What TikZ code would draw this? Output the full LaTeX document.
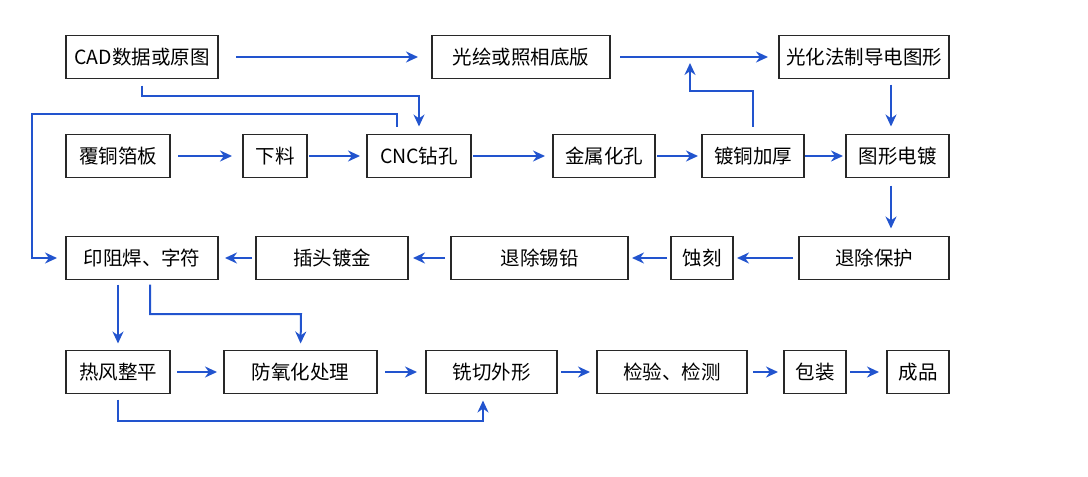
\documentclass[tikz,border=0pt]{standalone}
\usepackage{fontspec}
\setmainfont{Noto Sans CJK SC}
\usetikzlibrary{arrows.meta}
\definecolor{flowblue}{RGB}{34,84,206}
\definecolor{boxline}{RGB}{40,40,40}

\begin{document}
\begin{tikzpicture}[x=1pt,y=-1pt,
box/.style={draw=boxline,line width=1.4pt,inner sep=0pt,outer sep=0pt,minimum height=43pt,font=\fontsize{19.5}{22}\selectfont},
flow/.style={draw=flowblue,line width=2pt,-{Stealth[length=12pt,width=11pt]}}
]
\useasboundingbox (0,0) rectangle (1088,477);

% row 1
\node[box,minimum width=152pt] (cad) at (142,57) {CAD数据或原图};
\node[box,minimum width=178pt] (guanghui) at (521,57) {光绘或照相底版};
\node[box,minimum width=170pt] (guanghua) at (864,57) {光化法制导电图形};
% row 2
\node[box,minimum width=104pt] (futong) at (118,156) {覆铜箔板};
\node[box,minimum width=64pt] (xialiao) at (275,156) {下料};
\node[box,minimum width=104pt] (cnc) at (419,156) {CNC钻孔};
\node[box,minimum width=102pt] (jinshu) at (604,156) {金属化孔};
\node[box,minimum width=102pt] (dutong) at (753,156) {镀铜加厚};
\node[box,minimum width=103pt] (tuxing) at (897.5,156) {图形电镀};
% row 3
\node[box,minimum width=152pt] (yinzu) at (142,258) {印阻焊、字符};
\node[box,minimum width=152pt] (chatou) at (332,258) {插头镀金};
\node[box,minimum width=177pt] (tuixi) at (539.5,258) {退除锡铅};
\node[box,minimum width=62pt] (shike) at (702,258) {蚀刻};
\node[box,minimum width=150pt] (tuibao) at (874,258) {退除保护};
% row 4
\node[box,minimum width=104pt] (refeng) at (118,372) {热风整平};
\node[box,minimum width=153pt] (fangyang) at (300.5,372) {防氧化处理};
\node[box,minimum width=131pt] (xiqie) at (491.5,372) {铣切外形};
\node[box,minimum width=150pt] (jianyan) at (672,372) {检验、检测};
\node[box,minimum width=62pt] (baozhuang) at (815,372) {包装};
\node[box,minimum width=62pt] (chengpin) at (918,372) {成品};

% straight arrows: from/to/gap at start/gap at end
\foreach \a/\b/\s/\e in {cad.east/guanghui.west/18/14, guanghui.east/guanghua.west/10/11,
  futong.east/xialiao.west/8/11, xialiao.east/cnc.west/2/7, cnc.east/jinshu.west/2/8,
  jinshu.east/dutong.west/2/4, dutong.east/tuxing.west/1/3,
  chatou.west/yinzu.east/4/7, tuixi.west/chatou.east/6/5, shike.west/tuixi.east/4/4,
  tuibao.west/shike.east/6/4,
  refeng.east/fangyang.west/7/7, fangyang.east/xiqie.west/8/9, xiqie.east/jianyan.west/4/7,
  jianyan.east/baozhuang.west/6/6, baozhuang.east/chengpin.west/4/8}
{
\draw[flow,shorten <=\s pt,shorten >=\e pt] (\a) -- (\b);
}

% vertical arrows
\draw[flow,shorten <=6pt,shorten >=8pt] ([xshift=27pt]guanghua.south) -- ([xshift=-6.5pt]tuxing.north);
\draw[flow,shorten <=8pt,shorten >=8pt] ([xshift=-6.5pt]tuxing.south) -- ([xshift=17pt]tuibao.north);
\draw[flow,shorten <=5pt,shorten >=7pt] (yinzu.south -| refeng) -- (refeng.north);

% bent arrows
\coordinate (cadbend) at (0,96);
\coordinate (loopbend) at (32,114);
\coordinate (upbend) at (690,91);
\coordinate (uptip) at (690,63);
\coordinate (yinbend) at (301,314);
\coordinate (rebend) at (483,421);
\draw[flow,shorten <=7pt,shorten >=8pt] (cad.south) -- (cad.south |- cadbend) -| (cnc.north);
\draw[flow,shorten <=8pt,shorten >=9pt] ([xshift=-22pt]cnc.north) |- (loopbend) |- (yinzu.west);
\draw[flow,shorten <=8pt] (dutong.north) |- (upbend) -- (uptip);
\draw[flow,shorten <=5pt,shorten >=7pt] ([xshift=8pt]yinzu.south) |- (yinbend) -- (fangyang.north);
\draw[flow,shorten <=6pt,shorten >=7pt] (refeng.south) |- (rebend) -- ([xshift=-8.5pt]xiqie.south);
\end{tikzpicture}
\end{document}
